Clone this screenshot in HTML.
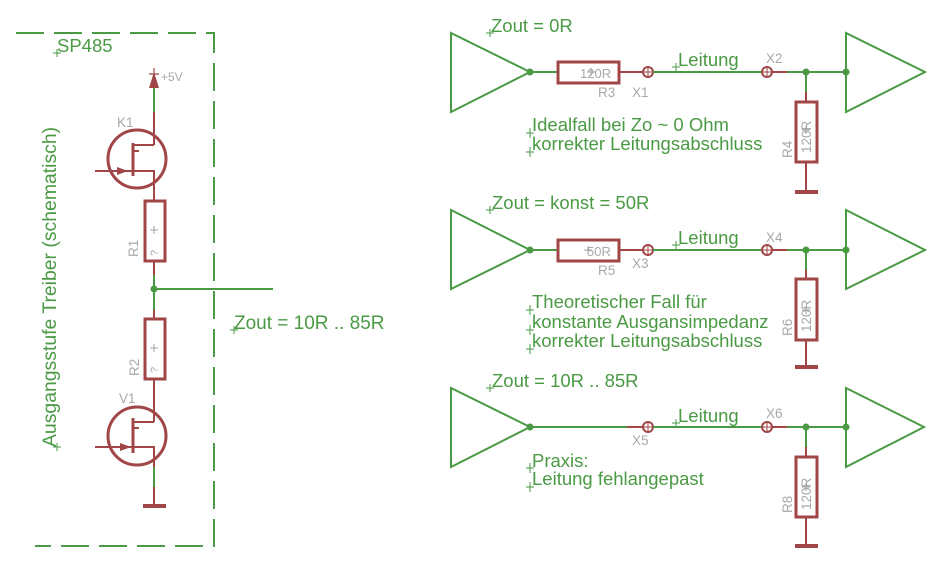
<!DOCTYPE html>
<html><head><meta charset="utf-8"><style>
html,body{margin:0;padding:0;background:#fff;}
svg{display:block;}
.g{stroke:#4a9a44;fill:none;stroke-width:2;}
.r{stroke:#a04646;fill:none;stroke-width:2;}
.rt{stroke:#a04646;fill:none;stroke-width:3;}
.gt{font-family:"Liberation Sans",sans-serif;font-size:18.5px;fill:#4a9a44;}
.lb{font-family:"Liberation Sans",sans-serif;font-size:13.5px;fill:#a8a8a8;}
.cx{stroke:#4a9a44;stroke-width:1;fill:none;}
.gx{stroke:#a0a0a0;stroke-width:1;fill:none;}
</style></head><body>
<svg width="946" height="561" viewBox="0 0 946 561" xmlns="http://www.w3.org/2000/svg">
<!-- Frame -->
<path d="M16,33 H214 V546 H35" class="g" stroke-dasharray="28 10"/>
<text class="gt" x="57" y="52">SP485</text>
<path class="cx" d="M53,53 h8 M57,49 v8"/>
<text class="gt" transform="translate(56,447) rotate(-90)" style="font-size:19.4px">Ausgangsstufe Treiber (schematisch)</text>
<path class="cx" d="M53,447 h8 M57,443 v8"/>

<!-- +5V supply -->
<polygon points="154,72 149,88 159,88" fill="#a04646"/>
<path class="r" d="M154,68 v10 M149,74 h10" style="stroke-width:1.2"/>
<text class="lb" x="161" y="81" style="font-size:12px">+5V</text>
<path class="g" d="M154,88 V112"/>
<path class="r" d="M154,112 V145"/>

<!-- K1 -->
<text class="lb" x="117" y="127">K1</text>
<circle cx="137" cy="159" r="29" class="rt"/>
<path class="rt" d="M133,143 V176"/>
<path class="r" d="M133,145 H154 M95,171 H154 V201 M134,151 h5"/>
<polygon points="117,167 117,175 128,171" fill="#a04646"/>

<!-- R1 -->
<rect x="145" y="201" width="20" height="60" class="rt"/>
<path class="gx" d="M150,230 h8 M154,226 v8"/>
<text class="lb" transform="translate(158,256) rotate(-90)" style="font-size:11px">?</text>
<text class="lb" transform="translate(138,257) rotate(-90)">R1</text>
<path class="r" d="M154,261 V275"/>
<path class="g" d="M154,275 V310 M154,289 H273"/>
<circle cx="154" cy="289" r="3.5" fill="#4a9a44"/>
<text class="gt" x="234" y="329" style="font-size:19px">Zout = 10R .. 85R</text>
<path class="cx" d="M230,330 h8 M234,326 v8"/>

<!-- R2 -->
<path class="r" d="M154,310 V319"/>
<rect x="145" y="319" width="20" height="60" class="rt"/>
<path class="gx" d="M150,348 h8 M154,344 v8"/>
<text class="lb" transform="translate(158,373) rotate(-90)" style="font-size:11px">?</text>
<text class="lb" transform="translate(139,376) rotate(-90)">R2</text>
<path class="r" d="M154,379 V422"/>

<!-- V1 -->
<text class="lb" x="119" y="403">V1</text>
<circle cx="137" cy="436" r="29" class="rt"/>
<path class="rt" d="M133,418 V453"/>
<path class="r" d="M133,422 H154 M95,447 H154 V467 M134,428 h5"/>
<polygon points="120,443 120,451 131,447" fill="#a04646"/>
<path class="g" d="M154,467 V487"/>
<path class="r" d="M154,487 V506"/>
<path d="M143,506 H166" stroke="#a04646" stroke-width="4"/>

<!-- ===== Section 1 ===== -->
<text class="gt" x="491" y="32">Zout = 0R</text>
<path class="cx" d="M486,33 h8 M490,29 v8"/>
<polygon points="451,33 451,112 530,72" class="g"/>
<circle cx="530" cy="72" r="3.5" fill="#4a9a44"/>
<path class="g" d="M530,72 H558"/>
<rect x="558" y="62" width="61" height="21" class="rt"/>
<text class="lb" x="580" y="78" style="font-size:13px">120R</text>
<path class="gx" d="M587,72 h8 M591,68 v8"/>
<text class="lb" x="598" y="97">R3</text>
<path class="r" d="M619,72 H643"/>
<circle cx="648" cy="72" r="5" class="r"/>
<path class="r" d="M643,72 h10 M648,67 v10" style="stroke-width:1"/>
<text class="lb" x="632" y="97">X1</text>
<path class="g" d="M653,72 H762"/>
<text class="gt" x="678" y="66">Leitung</text>
<path class="cx" d="M672,67 h8 M676,63 v8"/>
<circle cx="767" cy="72" r="5" class="r"/>
<path class="r" d="M762,72 h10 M767,67 v10" style="stroke-width:1"/>
<text class="lb" x="766" y="63">X2</text>
<path class="r" d="M772,72 H787"/>
<path class="g" d="M787,72 H846 M806,72 V92"/>
<circle cx="806" cy="72" r="3.5" fill="#4a9a44"/>
<circle cx="846" cy="72" r="3.5" fill="#4a9a44"/>
<polygon points="846,33 846,112 925,72" class="g"/>
<path class="r" d="M806,92 V102 M806,162 V192"/>
<rect x="796" y="102" width="21" height="60" class="rt"/>
<text class="lb" transform="translate(811,153) rotate(-90)">120R</text>
<path class="gx" d="M802,130 h8 M806,126 v8"/>
<text class="lb" transform="translate(792,158) rotate(-90)">R4</text>
<path d="M795,192 H818" stroke="#a04646" stroke-width="4"/>
<text class="gt" x="532" y="131">Idealfall bei Zo ~ 0 Ohm</text>
<path class="cx" d="M526,133 h8 M530,128 v10"/>
<text class="gt" x="532" y="150">korrekter Leitungsabschluss</text>
<path class="cx" d="M526,152 h8 M530,147 v10"/>

<!-- ===== Section 2 ===== -->
<text class="gt" x="492" y="209">Zout = konst = 50R</text>
<path class="cx" d="M486,210 h8 M490,206 v8"/>
<polygon points="451,210 451,289 530,250" class="g"/>
<circle cx="530" cy="250" r="3.5" fill="#4a9a44"/>
<path class="g" d="M530,250 H558"/>
<rect x="558" y="240" width="61" height="21" class="rt"/>
<text class="lb" x="587" y="256" style="font-size:13px">50R</text>
<path class="gx" d="M584,250 h8 M588,246 v8"/>
<text class="lb" x="598" y="275">R5</text>
<path class="r" d="M619,250 H643"/>
<circle cx="648" cy="250" r="5" class="r"/>
<path class="r" d="M643,250 h10 M648,245 v10" style="stroke-width:1"/>
<text class="lb" x="632" y="268">X3</text>
<path class="g" d="M653,250 H762"/>
<text class="gt" x="678" y="244">Leitung</text>
<path class="cx" d="M672,245 h8 M676,241 v8"/>
<circle cx="767" cy="250" r="5" class="r"/>
<path class="r" d="M762,250 h10 M767,245 v10" style="stroke-width:1"/>
<text class="lb" x="766" y="242">X4</text>
<path class="r" d="M772,250 H787"/>
<path class="g" d="M787,250 H846 M806,250 V270"/>
<circle cx="806" cy="250" r="3.5" fill="#4a9a44"/>
<circle cx="846" cy="250" r="3.5" fill="#4a9a44"/>
<polygon points="846,210 846,289 925,250" class="g"/>
<path class="r" d="M806,270 V279 M806,340 V367"/>
<rect x="796" y="279" width="21" height="61" class="rt"/>
<text class="lb" transform="translate(811,332) rotate(-90)">120R</text>
<path class="gx" d="M802,310 h8 M806,306 v8"/>
<text class="lb" transform="translate(792,336) rotate(-90)">R6</text>
<path d="M795,367 H818" stroke="#a04646" stroke-width="4"/>
<text class="gt" x="532" y="308">Theoretischer Fall für</text>
<path class="cx" d="M526,310 h8 M530,305 v10"/>
<text class="gt" x="532" y="328">konstante Ausgansimpedanz</text>
<path class="cx" d="M526,330 h8 M530,325 v10"/>
<text class="gt" x="532" y="347">korrekter Leitungsabschluss</text>
<path class="cx" d="M526,349 h8 M530,344 v10"/>

<!-- ===== Section 3 ===== -->
<text class="gt" x="492" y="387">Zout = 10R .. 85R</text>
<path class="cx" d="M486,388 h8 M490,384 v8"/>
<polygon points="451,388 451,467 530,427" class="g"/>
<circle cx="530" cy="427" r="3.5" fill="#4a9a44"/>
<path class="g" d="M530,427 H627"/>
<path class="r" d="M627,427 H643"/>
<circle cx="648" cy="427" r="5" class="r"/>
<path class="r" d="M643,427 h10 M648,422 v10" style="stroke-width:1"/>
<text class="lb" x="632" y="445">X5</text>
<path class="g" d="M653,427 H762"/>
<text class="gt" x="678" y="422">Leitung</text>
<path class="cx" d="M672,423 h8 M676,419 v8"/>
<circle cx="767" cy="427" r="5" class="r"/>
<path class="r" d="M762,427 h10 M767,422 v10" style="stroke-width:1"/>
<text class="lb" x="766" y="418">X6</text>
<path class="r" d="M772,427 H787"/>
<path class="g" d="M787,427 H846 M806,427 V447"/>
<circle cx="806" cy="427" r="3.5" fill="#4a9a44"/>
<circle cx="846" cy="427" r="3.5" fill="#4a9a44"/>
<polygon points="846,388 846,467 924,427" class="g"/>
<path class="r" d="M806,447 V457 M806,517 V546"/>
<rect x="796" y="457" width="21" height="60" class="rt"/>
<text class="lb" transform="translate(811,510) rotate(-90)">120R</text>
<path class="gx" d="M802,487 h8 M806,483 v8"/>
<text class="lb" transform="translate(792,513) rotate(-90)">R8</text>
<path d="M795,546 H818" stroke="#a04646" stroke-width="4"/>
<text class="gt" x="532" y="467">Praxis:</text>
<path class="cx" d="M526,468 h8 M530,463 v10"/>
<text class="gt" x="532" y="485">Leitung fehlangepast</text>
<path class="cx" d="M526,487 h8 M530,482 v10"/>
</svg>
</body></html>
